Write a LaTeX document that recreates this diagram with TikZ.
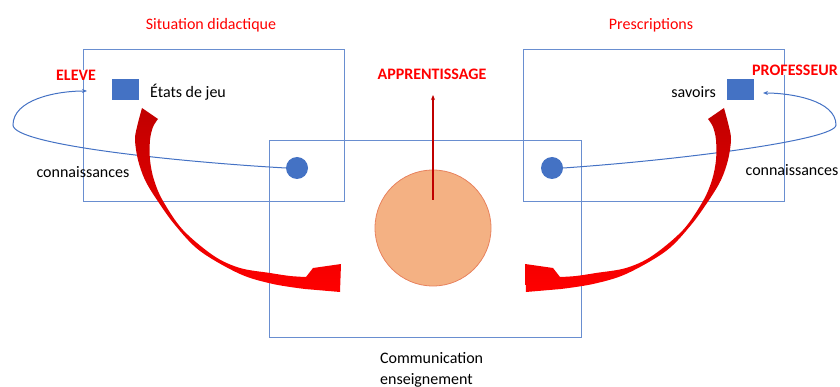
\documentclass[tikz,border=0pt]{standalone}
\usepackage{fontspec}
\setmainfont{Carlito}
\usetikzlibrary{arrows.meta}
\definecolor{boxblue}{HTML}{4472C4}
\definecolor{redtext}{HTML}{FF0000}
\definecolor{darkred}{HTML}{C00000}
\definecolor{peach}{HTML}{F4B183}
\definecolor{peachline}{HTML}{E8825E}
\tikzset{
  lbl/.style={font=\fontsize{16}{21}\selectfont, inner sep=0pt},
  redlbl/.style={lbl, text=redtext},
  actor/.style={font=\fontsize{16}{21}\selectfont\bfseries, text=redtext, inner sep=0pt},
  frame/.style={draw=boxblue!80, line width=0.8pt},
  bluesq/.style={fill=boxblue, minimum width=27pt, minimum height=21pt, inner sep=0pt},
  bluedot/.style={circle, fill=boxblue, minimum size=22pt, inner sep=0pt},
  loopline/.style={draw=boxblue, line width=1pt, -{Stealth[length=5pt,width=4pt]}},
  bandarrow/.style={top color=darkred, bottom color=red},
}
\begin{document}
\begin{tikzpicture}[x=1pt,y=-1pt]
  \useasboundingbox (0,0) rectangle (840,387);
  % frames
  \draw[frame] (83,49) rectangle (344,201);
  \draw[frame] (523,49) rectangle (784,201);
  \draw[frame] (269,140) rectangle (581,337);

  \node[redlbl] (sitlbl) at (211,25) {Situation didactique};
  \node[redlbl] (preslbl) at (651,25) {Prescriptions};
  \node[actor, fill=white] (eleve) at (76,75) {ELEVE};
  \node[actor, fill=white] (prof) at (795,70) {PROFESSEUR};
  \node[actor] (apprent) at (432,74) {APPRENTISSAGE};

  \node[bluesq] (etatsq) at (125.5,89.5) {};
  \node[lbl, anchor=west] (etats) at (150,92) {États de jeu};
  \node[bluesq] (savsq) at (740.5,89.5) {};
  \node[lbl, anchor=east] (savoirs) at (716,92) {savoirs};

  \node[bluedot] (eldot) at (297,168) {};
  \node[bluedot] (prdot) at (552,168) {};
  \node[lbl] (connL) at (83,172) {connaissances};
  \node[lbl] (connR) at (792,170) {connaissances};

  \node[circle, fill=peach, draw=peachline, line width=0.8pt, minimum size=116pt] (learn) at (433,228) {};
  \node[lbl, anchor=north west, align=left] (comm) at (380,352) {Communication\\enseignement};

  % loops
  \coordinate (elend) at (87,91);
  \coordinate (prend) at (763,93);
  \draw[loopline] (eldot.west) .. controls (180,162) and (13,145) .. (13,125)
        .. controls (13,100) and (55,91) .. (elend);
  \draw[loopline] (prdot.east) .. controls (680,160) and (836,140) .. (836,125)
        .. controls (836,100) and (790,93) .. (prend);

  % apprentissage
  \coordinate (apbase) at (433,200);
  \coordinate (aptip) at (433,95);
  \draw[darkred, line width=1.2pt, -{Stealth[length=5pt,width=4pt]}] (apbase) -- (aptip);

  % curved arrows
  \shade[bandarrow] plot[smooth, tension=0.55] coordinates {(142,108) (137,127) (135,140) (138,160) (145,180) (157,200) (175,225) (200,251) (240,274) (273,284) (305,289)}
     -- (340,292) -- (341,264) -- (313,268) -- (306,277)
     -- plot[smooth, tension=0.55] coordinates {(306,277) (290,276) (270,273) (240,268) (214,256) (183,230) (163,201) (154,180) (150,160) (150,140) (153,127) (158,119)} -- cycle;
  \begin{scope}[xshift=866pt, xscale=-1]
  \shade[bandarrow] plot[smooth, tension=0.55] coordinates {(142,108) (137,127) (135,140) (138,160) (145,180) (157,200) (175,225) (200,251) (240,274) (273,284) (305,289)}
     -- (340,292) -- (341,264) -- (313,268) -- (306,277)
     -- plot[smooth, tension=0.55] coordinates {(306,277) (290,276) (270,273) (240,268) (214,256) (183,230) (163,201) (154,180) (150,160) (150,140) (153,127) (158,119)} -- cycle;
  \end{scope}
\end{tikzpicture}
\end{document}
